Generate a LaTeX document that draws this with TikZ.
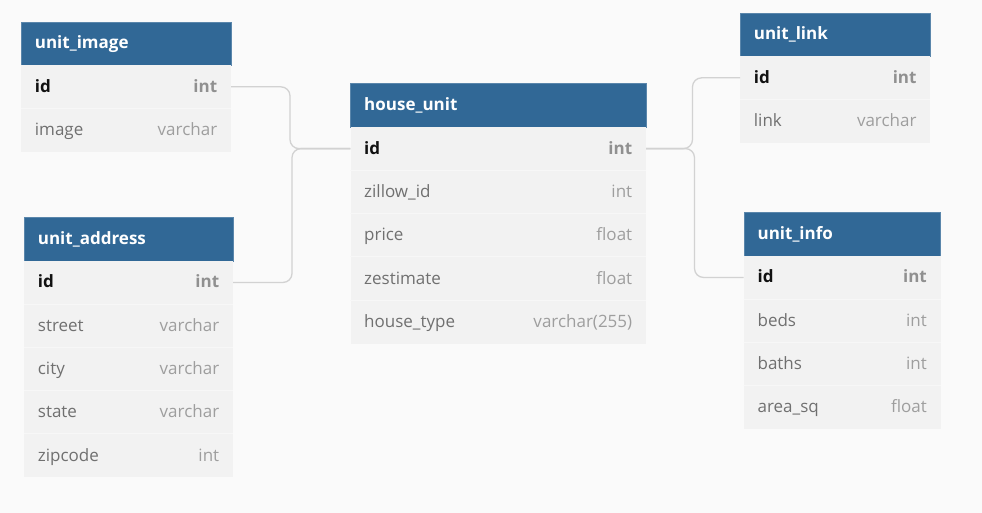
\documentclass[tikz,border=0pt]{standalone}
\usepackage{fontspec}
\setmainfont{Open Sans}
\definecolor{bgc}{HTML}{FAFAFA}
\definecolor{hdrc}{HTML}{316896}
\definecolor{rowc}{HTML}{F2F2F2}
\definecolor{sepc}{HTML}{F7F7F7}
\definecolor{namec}{HTML}{707070}
\definecolor{typec}{HTML}{9E9E9E}
\definecolor{keyc}{HTML}{111111}
\definecolor{keytc}{HTML}{909090}
\definecolor{connc}{HTML}{D2D2D2}
\tikzset{
  hdr/.style={rectangle, fill=hdrc, draw=hdrc!80!white, line width=0.6pt, inner sep=0pt, minimum height=43.3pt, anchor=north west},
  hdrtext/.style={inner sep=0pt, anchor=base west, text=white, font=\fontsize{17}{20}\selectfont\bfseries},
  rowbox/.style={rectangle, fill=rowc, inner sep=0pt, minimum height=43.3pt, anchor=north west},
  fname/.style={inner sep=0pt, anchor=base west, text=namec, font=\fontsize{17}{20}\selectfont},
  ftype/.style={inner sep=0pt, anchor=base east, text=typec, font=\fontsize{17}{20}\selectfont},
  kname/.style={fname, text=keyc, font=\fontsize{17}{20}\selectfont\bfseries},
  ktype/.style={ftype, text=keytc, font=\fontsize{17}{20}\selectfont\bfseries},
  conn/.style={draw=connc, line width=1.3pt, rounded corners=9pt}
}
\newcommand\ertable[6]{%
  \node[hdr, minimum width=#4] (#1-h) at (#2,#3) {};
  \node[hdrtext] (#1-ht) at ([xshift=13.7pt, yshift=-4.8pt]#1-h.west) {#5};
  \foreach \n/\t [count=\i] in {#6} {
    \node[rowbox, minimum width=#4] (#1-r\i) at (#2,{#3+43.3*\i}) {};
    \ifnum\i=1
      \node[kname] (#1-r\i n) at ([xshift=13.7pt, yshift=-5.5pt]#1-r\i.west) {\n};
      \node[ktype] (#1-r\i t) at ([xshift=-13.7pt, yshift=-5.5pt]#1-r\i.east) {\t};
    \else
      \draw[sepc, line width=0.8pt] (#1-r\i.north west) -- (#1-r\i.north east);
      \node[fname] (#1-r\i n) at ([xshift=13.7pt, yshift=-5.5pt]#1-r\i.west) {\n};
      \node[ftype] (#1-r\i t) at ([xshift=-13.7pt, yshift=-5.5pt]#1-r\i.east) {\t};
    \fi
  }
}
\begin{document}
\begin{tikzpicture}[x=1pt, y=-1pt]
\fill[bgc] (0,0) rectangle (982,513);
\useasboundingbox (0,0) rectangle (982,513);

\ertable{ui}{21}{21.7}{209.7}{unit\_image}{id/int, image/varchar}
\ertable{ua}{24}{217.3}{208.7}{unit\_address}{id/int, street/varchar, city/varchar, state/varchar, zipcode/int}
\ertable{hu}{350.3}{83.5}{295.4}{house\_unit}{id/int, zillow\_id/int, price/float, zestimate/float, house\_type/varchar(255)}
\ertable{ul}{740}{12.7}{190}{unit\_link}{id/int, link/varchar}
\ertable{uf}{743.7}{212.3}{196.6}{unit\_info}{id/int, beds/int, baths/int, area\_sq/float}

\coordinate (jl1) at (290,148.6);
\coordinate (jl2) at (292,148.6);
\coordinate (jr1) at (692.5,148.6);
\coordinate (jr2) at (694.5,148.6);

\draw[conn] (ui-r1.east) -- (ui-r1.east -| jl1) -- (jl1) -- (hu-r1.west);
\draw[conn] (ua-r1.east) -- (ua-r1.east -| jl2) -- (jl2) -- (hu-r1.west);
\draw[conn] (hu-r1.east) -- (jr1) -- (jr1 |- ul-r1.west) -- (ul-r1.west);
\draw[conn] (hu-r1.east) -- (jr2) -- (jr2 |- uf-r1.west) -- (uf-r1.west);
\end{tikzpicture}
\end{document}
